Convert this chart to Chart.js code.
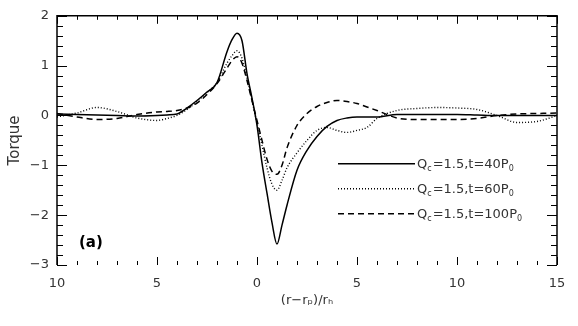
<!DOCTYPE html>
<html>
<head>
<meta charset="utf-8">
<script src="https://cdn.jsdelivr.net/npm/chart.js@4.4.1/dist/chart.umd.min.js"></script>
<style>
  html, body { margin: 0; padding: 0; background: #fff; }
  #wrap { width: 578px; height: 326px; }
</style>
</head>
<body>
<div id="wrap"><canvas id="c" width="578" height="326"></canvas></div>
<script>
// x positions (r - r_p)/r_h
const xs = [-10, -9, -8, -7, -6, -5, -4.5, -4, -3.5, -3, -2.5, -2, -1.5, -1.25, -1, -0.75, -0.5, -0.25,
  0, 0.25, 0.5, 0.75, 1, 1.25, 1.5, 2, 2.5, 3, 3.5, 4, 4.5, 5, 5.5, 6, 7, 8, 9, 10, 11, 12, 13, 14, 15];

// torque, t = 40 P0 (solid)
const torque40 = [0.03, 0.02, 0.01, 0.0, -0.01, 0.0, 0.01, 0.03, 0.15, 0.3, 0.47, 0.66, 1.28, 1.52, 1.65, 1.5, 0.84, 0.35,
  -0.2, -0.95, -1.56, -2.15, -2.58, -2.2, -1.8, -1.1, -0.7, -0.42, -0.22, -0.1, -0.05, -0.03, -0.03, -0.03, 0.02, 0.02, 0.02, 0.02, 0.01, 0.0, 0.0, 0.0, 0.0];

// torque, t = 60 P0 (dotted)
const torque60 = [-0.03, 0.05, 0.16, 0.08, -0.05, -0.1, -0.06, 0.0, 0.12, 0.28, 0.46, 0.66, 1.05, 1.2, 1.3, 1.15, 0.75, 0.3,
  -0.15, -0.6, -1.05, -1.38, -1.5, -1.3, -1.05, -0.75, -0.5, -0.3, -0.24, -0.3, -0.34, -0.3, -0.24, -0.06, 0.1, 0.14, 0.16, 0.15, 0.12, 0.0, -0.14, -0.12, 0.0];

// torque, t = 100 P0 (dashed)
const torque100 = [0.04, -0.03, -0.08, -0.06, 0.02, 0.07, 0.08, 0.1, 0.15, 0.25, 0.42, 0.64, 0.95, 1.1, 1.18, 1.05, 0.7, 0.3,
  -0.1, -0.5, -0.88, -1.12, -1.18, -1.0, -0.65, -0.2, 0.04, 0.18, 0.26, 0.3, 0.28, 0.24, 0.17, 0.1, -0.05, -0.08, -0.08, -0.08, -0.06, 0.0, 0.03, 0.04, 0.05];

const xTickLabels = {'-10': '10', '-5': '5', '0': '0', '5': '5', '10': '10', '15': '15'};
const yTickLabels = {'2': '2', '1': '1', '0': '0', '-1': '\u22121', '-2': '\u22122', '-3': '\u22123'};
const legendTimes = ['40', '60', '100'];

const toPts = (ys) => xs.map((x, i) => ({ x: x, y: ys[i] }));

const FONT = 'DejaVu Sans, sans-serif';

const framePlugin = {
  id: 'frame',
  afterDatasetsDraw(chart) {
    const ctx = chart.ctx;
    const a = chart.chartArea;
    const xS = chart.scales.x, yS = chart.scales.y;
    ctx.save();
    ctx.strokeStyle = '#000';
    ctx.lineWidth = 1.5;
    ctx.beginPath();
    ctx.moveTo(a.left, a.bottom);
    ctx.lineTo(a.left, a.top);
    ctx.lineTo(a.right, a.top);
    ctx.lineTo(a.right, a.bottom);
    ctx.stroke();

    // inward ticks
    ctx.lineWidth = 1;
    ctx.beginPath();
    for (let v = -10; v <= 15; v++) {
      const px = Math.round(xS.getPixelForValue(v)) + 0.5;
      const len = v % 5 === 0 ? 8 : 4;
      ctx.moveTo(px, a.bottom); ctx.lineTo(px, a.bottom - len);
      ctx.moveTo(px, a.top); ctx.lineTo(px, a.top + len);
    }
    for (let k = -15; k <= 10; k++) {
      const v = k / 5;
      const py = Math.round(yS.getPixelForValue(v)) + 0.5;
      const len = k % 5 === 0 ? 10 : 6;
      ctx.moveTo(a.left, py); ctx.lineTo(a.left + len, py);
      ctx.moveTo(a.right, py); ctx.lineTo(a.right - len, py);
    }
    ctx.stroke();

    // panel label
    ctx.fillStyle = '#000';
    ctx.font = 'bold 15px ' + FONT;
    ctx.textBaseline = 'middle';
    ctx.textAlign = 'left';
    ctx.fillText('(a)', a.left + 22, a.bottom - 22);

    // legend
    const sets = chart.data.datasets;
    sets.forEach((ds, i) => {
      const y = a.top + 148 + i * 25;
      const x0 = a.left + 281, x1 = a.left + 358;
      ctx.save();
      ctx.strokeStyle = '#000';
      ctx.lineWidth = ds.borderWidth;
      ctx.setLineDash(ds.borderDash || []);
      ctx.beginPath();
      ctx.moveTo(x0, y); ctx.lineTo(x1, y);
      ctx.stroke();
      ctx.restore();

      let x = x1 + 2;
      ctx.fillStyle = '#333';
      ctx.font = '13px ' + FONT;
      ctx.textBaseline = 'alphabetic';
      ctx.fillText('Q', x, y + 4);
      x += ctx.measureText('Q').width;
      ctx.font = '8px ' + FONT;
      ctx.fillText('c', x, y + 7);
      x += ctx.measureText('c').width + 1;
      ctx.font = '13px ' + FONT;
      const mid = '=1.5,t=' + legendTimes[i] + 'P';
      ctx.fillText(mid, x, y + 4);
      x += ctx.measureText(mid).width;
      ctx.font = '8px ' + FONT;
      ctx.fillText('0', x, y + 7);
    });
    ctx.restore();
  }
};

new Chart(document.getElementById('c'), {
  type: 'line',
  data: {
    datasets: [
      { label: 't=40', data: toPts(torque40), borderColor: '#000', borderWidth: 1.5, borderDash: [] },
      { label: 't=60', data: toPts(torque60), borderColor: '#000', borderWidth: 1.4, borderDash: [1, 2] },
      { label: 't=100', data: toPts(torque100), borderColor: '#000', borderWidth: 1.5, borderDash: [6, 4] }
    ]
  },
  options: {
    responsive: false,
    animation: false,
    elements: {
      point: { radius: 0 },
      line: { cubicInterpolationMode: 'monotone', fill: false }
    },
    layout: { padding: { top: 15, right: 21, left: 0, bottom: 0 } },
    plugins: { legend: { display: false }, tooltip: { enabled: false } },
    scales: {
      x: {
        type: 'linear', min: -10, max: 15,
        border: { display: false },
        grid: { display: false, drawTicks: false },
        afterBuildTicks: (s) => { s.ticks = [-10, -5, 0, 5, 10, 15].map(v => ({ value: v })); },
        afterFit: (s) => { s.height = 61; },
        ticks: {
          padding: 11, maxRotation: 0, autoSkip: false,
          color: '#333', font: { family: FONT, size: 13 },
          callback: (v) => xTickLabels[String(v)]
        },
        title: {
          display: true, text: '(r\u2212r\u209A)/r\u2095',
          color: '#333', font: { family: FONT, size: 13 }, padding: { top: 0, bottom: 18 }
        }
      },
      y: {
        type: 'linear', min: -3, max: 2,
        border: { display: false },
        grid: { display: false, drawTicks: false },
        afterBuildTicks: (s) => { s.ticks = [2, 1, 0, -1, -2, -3].map(v => ({ value: v })); },
        afterFit: (s) => { s.width = 57; },
        ticks: {
          padding: 8, autoSkip: false,
          color: '#333', font: { family: FONT, size: 13 },
          callback: (v) => yTickLabels[String(v)]
        },
        title: {
          display: true, text: 'Torque',
          color: '#333', font: { family: FONT, size: 15 }, padding: { top: 6, bottom: 0 }
        }
      }
    }
  },
  plugins: [framePlugin]
});
</script>
</body>
</html>
